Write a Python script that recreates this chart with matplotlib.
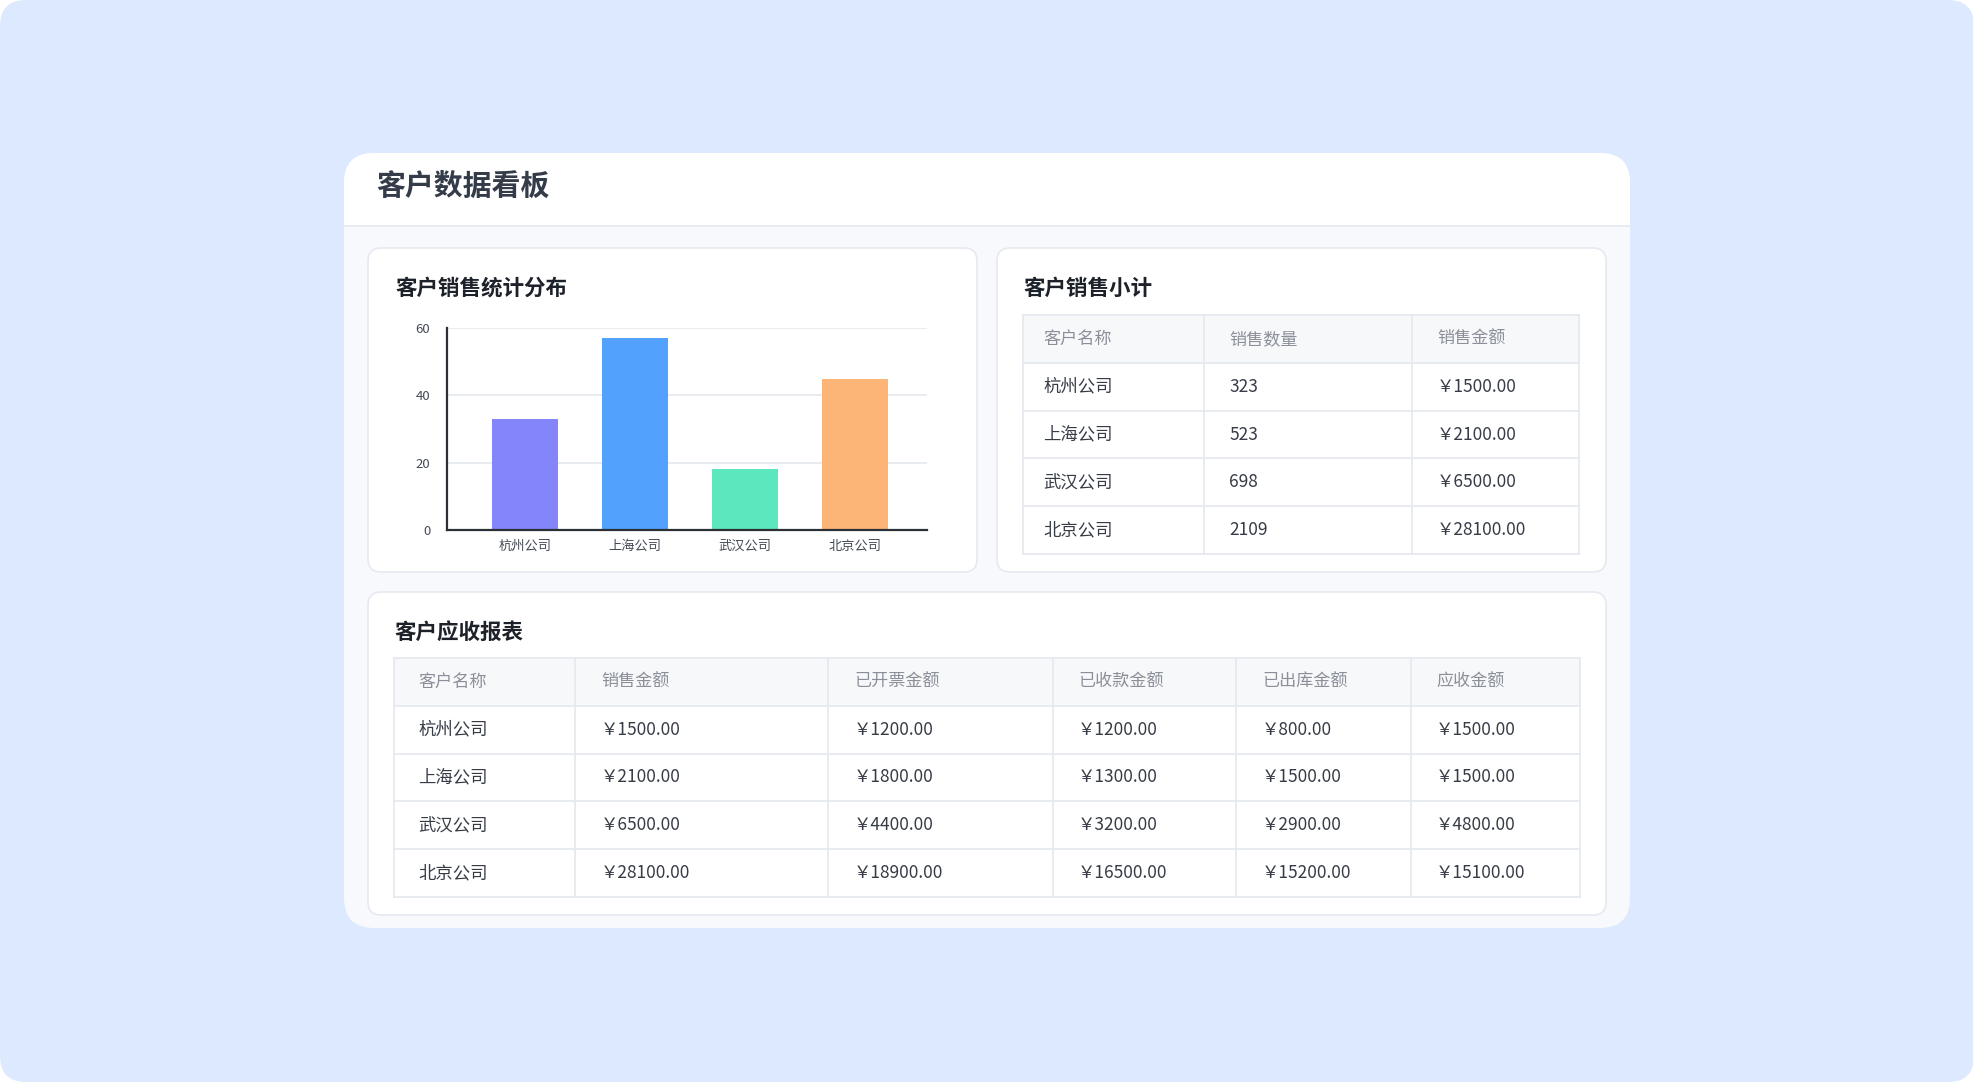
"""客户数据看板: bar chart plus two tables drawn on a pixel-mapped canvas."""

import matplotlib

matplotlib.use("Agg")
import matplotlib.pyplot as plt
from matplotlib.patches import FancyBboxPatch, Rectangle

plt.rcParams["font.family"] = ["Noto Sans CJK SC", "DejaVu Sans"]

# ---- data -----------------------------------------------------------------
companies = ["杭州公司", "上海公司", "武汉公司", "北京公司"]
bar_values = [33, 57, 18, 45]
bar_colors = ["#8585fa", "#52a2fd", "#5de7bf", "#fcb577"]

summary_headers = ["客户名称", "销售数量", "销售金额"]
sales_qty = [323, 523, 698, 2109]
sales_amount = [1500, 2100, 6500, 28100]

ar_headers = ["客户名称", "销售金额", "已开票金额", "已收款金额", "已出库金额", "应收金额"]
invoiced = [1200, 1800, 4400, 18900]
received = [1200, 1300, 3200, 16500]
shipped = [800, 1500, 2900, 15200]
receivable = [1500, 1500, 4800, 15100]

W, H = 1974, 1082
BG_BLUE = "#dce9fe"
CARD_GRAY = "#f7f9fc"
BORDER = "#e6e9ef"
HEAD_BG = "#f7f8fa"
HEAD_TXT = "#8a8f99"
BODY_TXT = "#363b46"


def money(v):
    return f"￥{v:.2f}"


def rbox(ax, x0, y0, x1, y1, r, fc, ec="none", lw=0, z=1):
    ax.add_patch(FancyBboxPatch((x0, y0), x1 - x0, y1 - y0,
                                boxstyle=f"round,pad=0,rounding_size={r}",
                                fc=fc, ec=ec, lw=lw, zorder=z))


def draw_table(ax, x_edges, y_top, row_h, headers, rows, pad):
    n_rows = len(rows) + 1
    y_bot = y_top + row_h * n_rows
    ax.add_patch(Rectangle((x_edges[0], y_top), x_edges[-1] - x_edges[0], row_h,
                           fc=HEAD_BG, ec="none", zorder=3))
    for i in range(n_rows + 1):
        y = y_top + i * row_h
        ax.plot([x_edges[0], x_edges[-1]], [y, y], color=BORDER, lw=1.3, zorder=4)
    for x in x_edges:
        ax.plot([x, x], [y_top, y_bot], color=BORDER, lw=1.3, zorder=4)
    for j, h in enumerate(headers):
        ax.text(x_edges[j] + pad[j], y_top + row_h / 2, h, fontsize=12.3,
                color=HEAD_TXT, va="center", ha="left", zorder=5)
    for i, row in enumerate(rows):
        yc = y_top + row_h * (i + 1.5)
        for j, cell in enumerate(row):
            ax.text(x_edges[j] + pad[j], yc, cell, fontsize=12.5,
                    color=BODY_TXT, va="center", ha="left", zorder=5)


fig = plt.figure(figsize=(W / 100, H / 100), dpi=100, facecolor="white")
canvas = fig.add_axes([0, 0, 1, 1])
canvas.set_xlim(0, W)
canvas.set_ylim(H, 0)
canvas.axis("off")

# page background and main card
rbox(canvas, 0, 0, W, H, 26, BG_BLUE, z=0)
rbox(canvas, 344, 153, 1630, 928, 30, CARD_GRAY, z=1)
rbox(canvas, 344, 153, 1630, 262, 30, "white", z=1.5)
canvas.add_patch(Rectangle((344, 226), 1286, 40, fc=CARD_GRAY, ec="none", zorder=1.6))
canvas.plot([344, 1630], [226, 226], color="#e8ebf0", lw=1.5, zorder=1.7)
canvas.text(376, 186, "客户数据看板", fontsize=20.8, fontweight="bold",
            color="#343c49", va="center", ha="left", zorder=5)

# sub cards
rbox(canvas, 368, 248, 977, 572, 13, "white", BORDER, 1.2, z=2)
rbox(canvas, 997, 248, 1606, 572, 13, "white", BORDER, 1.2, z=2)
rbox(canvas, 368, 592, 1606, 915, 13, "white", BORDER, 1.2, z=2)

for x, y, t in [(395, 288, "客户销售统计分布"), (1023, 288, "客户销售小计"),
                (394, 632, "客户应收报表")]:
    canvas.text(x, y, t, fontsize=15.5, fontweight="bold", color="#1d2129",
                va="center", ha="left", zorder=5)

# summary table
summary_rows = [[c, str(q), money(a)] for c, q, a in zip(companies, sales_qty, sales_amount)]
draw_table(canvas, [1023, 1204, 1412, 1579], 315, 47.8, summary_headers,
           summary_rows, [20, 25, 25])

# receivables table
ar_rows = [[c, money(a), money(b), money(r), money(s), money(v)]
           for c, a, b, r, s, v in zip(companies, sales_amount, invoiced,
                                       received, shipped, receivable)]
draw_table(canvas, [394, 575, 828, 1053, 1236, 1411, 1580], 658, 47.8, ar_headers,
           ar_rows, [24, 26, 26, 25, 26, 25])

# bar chart
ax = fig.add_axes([447 / W, 1 - 530 / H, 480.5 / W, 202 / H])
ax.set_facecolor("none")
x = range(len(companies))
ax.bar(x, bar_values, width=0.6, color=bar_colors, zorder=3)
ax.set_xlim(-0.71, 3.66)
ax.set_ylim(0, 60)
ax.set_yticks([0, 20, 40, 60])
ax.set_xticks(list(x))
ax.set_xticklabels(companies)
ax.grid(axis="y", color="#e6eaf0", lw=1.3, zorder=0)
ax.tick_params(length=0, labelsize=9.5, labelcolor="#444a55")
ax.tick_params(axis="y", pad=12)
ax.tick_params(axis="x", pad=7)
for side in ("top", "right"):
    ax.spines[side].set_visible(False)
for side in ("left", "bottom"):
    ax.spines[side].set_color("#2b2f36")
    ax.spines[side].set_linewidth(1.6)
    ax.spines[side].set_zorder(4)

fig.savefig("out.png", dpi=100, facecolor="white")
